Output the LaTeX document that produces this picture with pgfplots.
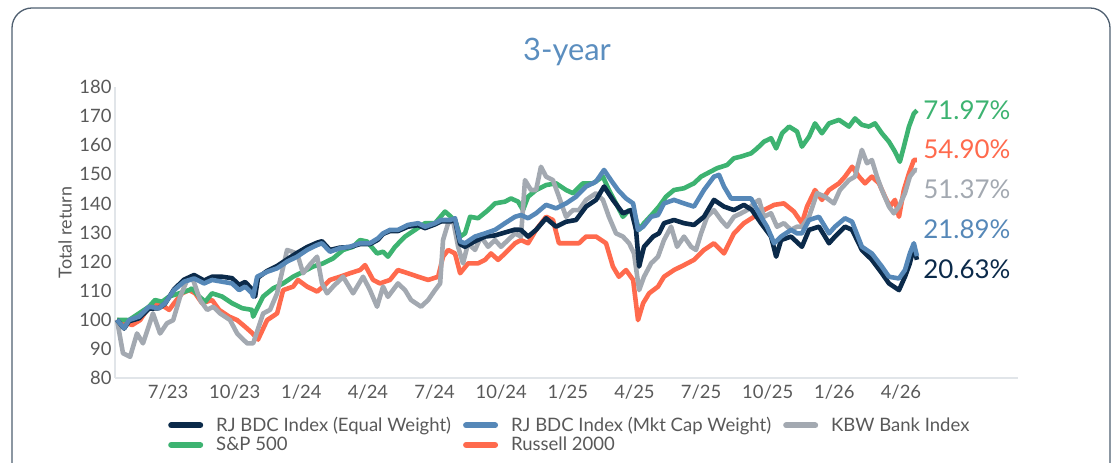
\documentclass[border=0pt]{standalone}
\usepackage{fontspec}
\setmainfont{Lato}
\usepackage{pgfplots}
\pgfplotsset{compat=1.18}
\definecolor{navy}{HTML}{0B2A4A}
\definecolor{mcblue}{HTML}{5688B8}
\definecolor{kbwgray}{HTML}{A3A9B1}
\definecolor{spgreen}{HTML}{3DB371}
\definecolor{rusorange}{HTML}{FF6A4D}
\definecolor{txtgray}{HTML}{595959}
\definecolor{axgray}{HTML}{E1E5E9}
\definecolor{titleblue}{HTML}{5B8EBF}
\definecolor{framecol}{HTML}{4F5F70}
\begin{document}
\begin{tikzpicture}
\useasboundingbox (0bp,0bp) rectangle (1114bp,463bp);
\begin{scope}
\clip (0bp,0bp) rectangle (1114bp,463bp);
\draw[framecol, line width=1.3bp, rounded corners=20bp] (12bp,-40bp) rectangle (1110bp,455bp);
\end{scope}
\node[font=\fontsize{31}{36}\selectfont, text=titleblue] at (567bp,411bp) {3-year};
\begin{axis}[
  at={(115bp,85bp)}, anchor=south west,
  scale only axis, width=903bp, height=291bp,
  xmin=-2.39, xmax=38.27, ymin=80, ymax=180,
  axis x line=bottom, axis y line=left,
  axis line style={draw=axgray, line width=2.5bp, -},
  xtick={0,3,...,33},
  xticklabels={7/23,10/23,1/24,4/24,7/24,10/24,1/25,4/25,7/25,10/25,1/26,4/26},
  ytick={80,90,...,180},
  major tick length=0pt,
  tick label style={font=\fontsize{18.5}{22}\selectfont, text=txtgray},
  xticklabel style={yshift=-3bp},
  /pgf/number format/assume math mode=true,
  ylabel={Total return},
  ylabel style={font=\fontsize{18}{21}\selectfont, text=txtgray, at={(axis description cs:-0.0554,0.5)}, anchor=center},
  clip=false,
  legend columns=3,
  legend cell align=left,
  legend style={at={(axis description cs:0.0587,-0.128)}, anchor=north west, draw=none, fill=none,
    font=\fontsize{18.6}{22}\selectfont, text=txtgray, inner sep=0pt,
    /tikz/every even column/.append style={column sep=10bp}, row sep=0bp},
  legend image code/.code={\draw[#1, line width=6bp, line cap=round] (3bp,0bp) -- (32bp,0bp); \path[draw=none, fill=none] (0bp,0bp) -- (46bp,0bp);},
  every axis plot/.append style={line width=4.6bp, line join=round},
]
\addlegendimage{navy}\addlegendentry{RJ BDC Index (Equal Weight)}
\addlegendimage{mcblue}\addlegendentry{RJ BDC Index (Mkt Cap Weight)}
\addlegendimage{kbwgray}\addlegendentry{KBW Bank Index}
\addlegendimage{spgreen}\addlegendentry{S\&P 500}
\addlegendimage{rusorange}\addlegendentry{Russell 2000}

% Russell 2000
\addplot[rusorange, forget plot] coordinates {
(-2.30,100.0) (-1.62,98.2) (-1.26,99.9) (-0.86,104.5) (-0.41,105.7) (0.05,103.4) (0.27,105.7) (0.63,109.1) (0.95,110.2) (1.22,109.1) (1.53,105.7) (1.98,106.8) (2.30,103.4) (2.75,101.1) (3.11,99.9) (3.47,97.6) (3.78,95.5) (4.05,93.2) (4.46,99.9) (4.91,102.2) (5.18,110.2) (5.63,111.4) (5.85,113.7) (6.26,111.4) (6.71,109.7) (6.98,111.4) (7.29,113.7) (7.74,114.8) (8.19,116.0) (8.64,117.1) (8.87,118.8) (9.23,113.7) (9.54,112.5) (9.99,113.7)
(10.35,117.1) (10.80,116.0) (11.26,114.8) (11.71,113.7) (12.16,114.8) (12.38,121.7) (12.61,124.0) (12.92,122.8) (13.15,116.0) (13.51,119.4) (13.96,119.4) (14.27,120.6) (14.54,122.8) (14.86,120.6) (15.17,122.8) (15.62,126.3) (15.89,127.4) (16.21,126.3)
(16.57,130.9) (17.02,135.4) (17.33,134.3) (17.60,126.3) (18.05,126.3) (18.50,126.3) (18.82,128.6) (19.27,128.6) (19.72,126.3) (20.03,118.3) (20.30,114.8) (20.62,117.1) (20.94,113.7) (21.16,99.9) (21.39,105.7) (21.66,109.1) (22.06,111.4) (22.33,114.8)
(22.78,117.1) (23.23,118.8) (23.68,120.6) (24.13,124.0) (24.58,126.3) (25.03,122.8) (25.48,129.7) (25.93,133.2) (26.38,135.4) (26.83,137.7) (27.29,139.5) (27.73,140.0) (28.18,137.2) (28.54,133.2)
(28.77,138.9) (29.13,144.6) (29.44,141.2) (29.76,144.6) (30.21,146.9) (30.48,149.2) (30.80,152.6) (31.11,149.2) (31.38,146.9) (31.69,149.2) (32.01,146.9) (32.28,142.3) (32.50,138.9) (32.73,141.2) (32.91,135.4) (33.13,144.6) (33.36,150.3) (33.58,154.9) (33.72,154.90)
};
% S&P 500
\addplot[spgreen, forget plot] coordinates {
(-2.30,100.0) (-1.76,99.9) (-1.31,102.2) (-0.86,104.5) (-0.59,106.8) (-0.27,106.2) (0.05,108.0) (0.50,109.1) (0.95,110.2) (1.08,110.8) (1.40,108.0) (1.67,106.2) (1.98,109.1) (2.43,108.0) (2.88,105.7) (3.33,104.0) (3.78,103.4) (3.83,101.1) (4.28,108.0) (4.73,110.8) (5.18,112.5) (5.63,114.8) (6.08,116.5) (6.53,118.3) (6.98,119.4) (7.43,121.1) (7.88,124.0) (8.33,125.1) (8.64,127.4) (8.96,126.9) (9.41,122.8) (9.68,123.4) (9.90,121.7)
(10.22,125.1) (10.67,128.6) (11.12,130.9) (11.57,133.2) (12.02,133.2) (12.47,137.2) (12.74,135.4) (12.97,133.2) (13.15,128.6) (13.37,129.7) (13.60,135.4) (13.96,134.9) (14.41,137.7) (14.72,140.0) (15.17,140.6) (15.44,141.7) (15.76,140.6) (15.98,137.7) (16.21,142.3)
(16.57,144.6) (17.02,146.3) (17.47,146.9) (17.92,144.6) (18.23,143.5) (18.68,146.9) (19.13,146.9) (19.58,149.2) (19.85,144.6) (20.17,140.0) (20.48,135.4) (20.76,137.7) (20.98,136.6) (21.21,130.9) (21.43,133.2) (21.84,136.6) (22.10,138.9) (22.42,142.3)
(22.78,144.6) (23.23,145.2) (23.68,146.9) (24.00,149.2) (24.27,150.3) (24.72,152.1) (25.17,153.2) (25.48,155.5) (25.80,156.1) (26.25,157.2) (26.52,158.9) (26.83,161.2) (27.15,162.4) (27.38,158.9) (27.65,164.1) (27.96,166.4) (28.32,164.7) (28.54,159.5)
(28.86,162.9) (29.13,167.5) (29.44,164.1) (29.76,167.5) (30.21,168.7) (30.66,166.4) (30.93,169.2) (31.24,167.0) (31.56,166.4) (31.83,167.5) (32.14,164.1) (32.46,161.2) (32.73,157.8) (32.95,154.3) (33.13,159.5) (33.36,166.4) (33.58,170.9) (33.72,171.97)
};
% KBW Bank Index
\addplot[kbwgray, forget plot] coordinates {
(-2.30,100.0) (-2.03,88.5) (-1.71,87.3) (-1.40,95.3) (-1.13,91.9) (-0.68,102.2) (-0.36,95.3) (-0.05,98.8) (0.23,99.9) (0.54,107.9) (0.86,113.7) (1.13,113.7) (1.44,106.8) (1.76,103.4) (2.03,104.5) (2.34,102.2) (2.79,99.9) (3.11,95.3) (3.56,91.9) (3.83,91.9) (4.28,102.2) (4.59,103.4) (4.91,109.1) (5.36,124.0) (5.81,122.8) (6.08,116.0) (6.39,119.0) (6.71,121.7) (6.93,112.5) (7.16,109.1) (7.43,111.4) (7.88,114.8) (8.33,109.1) (8.78,114.8) (9.09,110.2) (9.41,104.5) (9.68,111.4) (9.90,107.9)
(10.35,112.5) (10.67,110.2) (10.94,106.8) (11.39,104.5) (11.71,106.8) (12.02,110.2) (12.25,112.5) (12.38,127.4) (12.61,133.2) (12.83,134.3) (13.06,125.1) (13.28,119.4) (13.51,126.3) (13.82,124.0) (14.09,128.6) (14.41,125.1) (14.72,127.4) (14.99,125.1) (15.31,127.4) (15.62,129.7) (15.89,128.6) (16.07,148.0)
(16.34,144.6) (16.57,144.6) (16.79,152.6) (17.02,149.2) (17.33,148.0) (17.60,142.3) (17.92,135.4) (18.23,137.7) (18.50,137.7) (18.82,141.2) (19.27,143.5) (19.58,141.2) (19.85,135.4) (20.17,129.7) (20.48,128.6) (20.76,126.3) (20.98,122.8) (21.21,110.2) (21.43,114.8) (21.75,119.4) (22.06,121.7) (22.33,127.4)
(22.65,132.0) (22.92,125.1) (23.23,128.6) (23.55,125.1) (23.77,124.0) (24.00,129.7) (24.27,135.4) (24.58,137.7) (24.90,134.3) (25.17,132.0) (25.48,135.4) (25.80,136.6) (26.07,137.7) (26.38,140.0) (26.61,141.2) (26.83,135.4) (27.15,136.6) (27.42,132.0) (27.73,133.2) (28.05,130.9) (28.32,132.0) (28.54,132.0)
(28.86,135.4) (29.22,143.5) (29.58,142.3) (29.98,140.0) (30.25,144.6) (30.66,148.0) (30.93,149.2) (31.24,158.4) (31.47,153.8) (31.69,154.9) (31.92,149.2) (32.14,144.6) (32.46,138.9) (32.68,136.6) (32.91,138.9) (33.18,143.5) (33.40,149.2) (33.63,151.5) (33.72,151.37)
};
% RJ BDC Equal Weight
\addplot[navy, forget plot] coordinates {
(-2.30,100.0) (-1.98,97.0) (-1.76,99.5) (-1.31,100.5) (-0.86,103.8) (-0.41,104.0) (-0.14,105.5) (0.27,110.5) (0.72,113.8) (1.17,115.4) (1.62,113.5) (1.98,114.8) (2.43,114.8) (2.88,114.3) (3.20,112.0) (3.47,113.0) (3.78,110.5) (3.92,108.0) (4.05,114.5) (4.46,116.8) (4.91,118.5) (5.36,120.8) (5.81,123.0) (6.26,125.0) (6.71,126.5) (6.93,127.0) (7.29,124.0) (7.74,124.8) (8.19,125.0) (8.64,126.0) (9.09,126.0) (9.45,127.5) (9.68,129.5) (9.99,130.5)
(10.35,130.5) (10.80,132.0) (11.26,132.5) (11.57,131.5) (12.02,132.8) (12.29,133.8) (12.70,133.8) (12.92,134.3) (13.15,126.0) (13.37,125.1) (13.82,127.0) (14.27,128.6) (14.72,129.0) (15.17,130.0) (15.62,131.0) (15.89,130.9) (16.21,128.6)
(16.57,130.9) (17.02,134.9) (17.47,132.0) (17.92,133.7) (18.37,134.3) (18.82,138.9) (19.27,141.2) (19.63,145.8) (20.03,141.2) (20.48,136.6) (20.85,137.7) (21.07,130.9) (21.21,118.3) (21.43,125.1) (21.84,128.6) (22.10,129.7)
(22.33,133.2) (22.78,134.3) (23.23,133.2) (23.68,132.6) (24.13,135.4) (24.58,141.2) (25.03,138.9) (25.48,137.7) (25.93,139.5) (26.29,137.7) (26.70,133.2) (27.15,128.6) (27.38,121.7) (27.60,127.4) (28.05,128.6) (28.54,125.1)
(28.86,130.9) (29.31,132.0) (29.76,126.3) (30.03,128.6) (30.48,132.0) (30.80,130.9) (31.24,124.0) (31.69,120.6) (32.14,116.0) (32.46,112.5) (32.91,110.2) (33.18,114.8) (33.40,119.4) (33.58,125.1) (33.72,120.63)
};
% RJ BDC Mkt Cap Weight
\addplot[mcblue, forget plot] coordinates {
(-2.30,100.0) (-1.98,97.1) (-1.76,99.9) (-1.31,101.1) (-0.86,104.5) (-0.41,104.0) (-0.14,105.7) (0.27,110.2) (0.72,113.1) (1.17,114.2) (1.62,112.5) (1.98,113.7) (2.43,113.1) (2.88,112.5) (3.20,110.2) (3.47,111.4) (3.78,109.1) (3.83,107.9) (4.01,114.8) (4.46,116.5) (4.91,117.7) (5.36,120.0) (5.81,121.7) (6.26,124.0) (6.71,125.7) (6.93,126.3) (7.29,123.4) (7.74,124.6) (8.19,125.1) (8.64,126.3) (9.09,126.3) (9.45,128.0) (9.68,129.7) (9.99,130.9)
(10.35,130.9) (10.80,132.6) (11.26,133.2) (11.57,132.0) (12.02,133.2) (12.29,134.3) (12.70,134.3) (12.92,134.9) (13.15,126.9) (13.37,126.3) (13.82,128.6) (14.27,129.7) (14.72,130.9) (15.17,133.2) (15.62,135.4) (15.89,136.0) (16.21,134.9)
(16.57,136.6) (17.02,139.5) (17.47,138.3) (17.92,140.0) (18.37,142.3) (18.82,145.8) (19.27,147.5) (19.63,151.5) (19.94,148.0) (20.26,144.6) (20.62,141.7) (20.94,140.0) (21.16,130.9) (21.39,132.0) (21.75,135.4) (22.06,136.0)
(22.33,140.0) (22.78,141.2) (23.23,140.0) (23.68,138.9) (24.13,144.6) (24.58,149.2) (24.81,149.8) (25.03,145.8) (25.35,141.7) (25.80,141.7) (26.25,141.7) (26.70,135.4) (26.97,132.0) (27.29,126.3) (27.60,128.6) (28.05,130.9) (28.32,129.7) (28.54,129.7)
(28.86,134.3) (29.31,135.4) (29.76,129.7) (30.03,132.0) (30.48,134.9) (30.80,133.7) (31.24,125.1) (31.69,122.8) (32.14,118.3) (32.46,114.8) (32.91,114.2) (33.18,117.1) (33.40,122.8) (33.58,126.3) (33.72,121.89)
};

\node[anchor=west, inner sep=0pt, text=spgreen, font=\fontsize{26}{30}\selectfont] at (axis cs:34.0,172.1) {71.97\%};
\node[anchor=west, inner sep=0pt, text=rusorange, font=\fontsize{26}{30}\selectfont] at (axis cs:34.0,158.7) {54.90\%};
\node[anchor=west, inner sep=0pt, text=kbwgray, font=\fontsize{26}{30}\selectfont] at (axis cs:34.0,145.0) {51.37\%};
\node[anchor=west, inner sep=0pt, text=mcblue, font=\fontsize{26}{30}\selectfont] at (axis cs:34.0,131.2) {21.89\%};
\node[anchor=west, inner sep=0pt, text=navy, font=\fontsize{26}{30}\selectfont] at (axis cs:34.0,117.4) {20.63\%};
\end{axis}
\end{tikzpicture}
\end{document}
